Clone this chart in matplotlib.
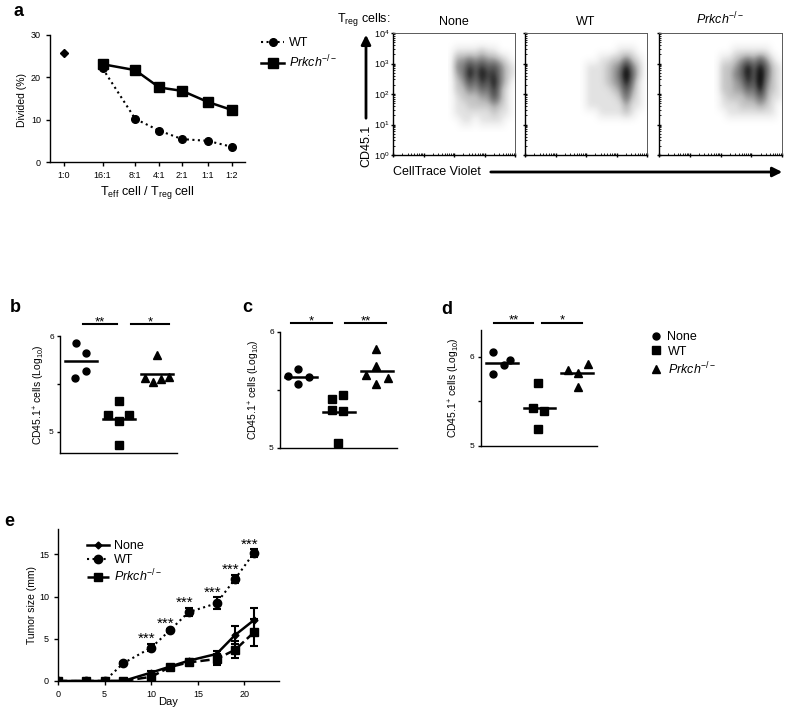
import numpy as np
import matplotlib
matplotlib.use("Agg")
import matplotlib.pyplot as plt
import matplotlib.transforms as mtransforms
from matplotlib.colors import PowerNorm
from matplotlib.lines import Line2D
from matplotlib.patches import FancyArrowPatch

plt.rcParams['font.family'] = ['Liberation Sans', 'DejaVu Sans']
plt.rcParams['mathtext.fontset'] = 'custom'
plt.rcParams['mathtext.rm'] = 'Liberation Sans'
plt.rcParams['mathtext.it'] = 'Liberation Sans:italic'
plt.rcParams['mathtext.bf'] = 'Liberation Sans:bold'
plt.rcParams['axes.linewidth'] = 1.0

KO = r"$\it{Prkch}^{-/-}$"

# --- Data: panel a (suppression assay) ---
ratio_labels = ["1:0", "16:1", "8:1", "4:1", "2:1", "1:1", "1:2"]
ctrl_divided = 25.8
wt_divided = [22.1, 10.2, 7.4, 5.4, 5.0, 3.6]
ko_divided = [23.1, 21.7, 17.6, 16.8, 14.2, 12.3]

# --- Data: panel a flow plots, density read off per bin (0 = empty, 9 = black) ---
# columns: log10 CellTrace Violet 2.0 .. 4.0, rows: log10 CD45.1 3.5 (top) .. 1.0
cv_edges = [2.0, 4.0]
cd45_edges = [1.0, 3.5]
flow_titles = ["None", "WT", KO]
flow_none = [
    [1, 1, 1, 1, 2, 1, 1, 0, 0, 0],
    [3, 3, 4, 3, 4, 3, 3, 2, 1, 0],
    [4, 4, 7, 5, 7, 5, 6, 4, 2, 1],
    [3, 4, 8, 5, 8, 6, 7, 4, 2, 1],
    [2, 3, 6, 4, 7, 5, 8, 4, 2, 0],
    [2, 2, 4, 3, 5, 4, 7, 3, 1, 0],
    [1, 2, 2, 2, 3, 3, 6, 3, 1, 0],
    [1, 1, 2, 2, 2, 2, 3, 2, 1, 0],
    [1, 1, 1, 1, 1, 1, 2, 1, 1, 0],
    [0, 1, 1, 0, 1, 1, 1, 1, 0, 0],
]
flow_wt = [
    [0, 0, 0, 0, 0, 1, 1, 1, 0, 0],
    [0, 0, 1, 1, 2, 2, 4, 2, 1, 0],
    [1, 1, 1, 2, 3, 4, 8, 4, 2, 0],
    [1, 1, 1, 2, 3, 5, 9, 5, 2, 0],
    [1, 1, 1, 2, 3, 4, 8, 4, 1, 0],
    [1, 1, 1, 1, 2, 3, 6, 3, 1, 0],
    [1, 1, 1, 1, 1, 2, 5, 2, 1, 0],
    [1, 1, 1, 1, 1, 1, 3, 1, 1, 0],
    [0, 0, 1, 1, 1, 1, 2, 1, 0, 0],
    [0, 0, 0, 0, 0, 0, 0, 0, 0, 0],
]
flow_ko = [
    [0, 0, 1, 1, 1, 1, 1, 1, 0, 0],
    [1, 1, 2, 3, 4, 3, 5, 3, 1, 0],
    [2, 2, 3, 5, 8, 5, 8, 5, 2, 1],
    [2, 2, 4, 5, 8, 5, 9, 5, 2, 1],
    [2, 2, 3, 4, 7, 5, 9, 4, 2, 1],
    [2, 2, 3, 3, 5, 4, 8, 3, 2, 1],
    [1, 2, 2, 2, 3, 3, 5, 3, 1, 1],
    [1, 1, 1, 2, 2, 2, 3, 2, 1, 0],
    [0, 1, 1, 1, 1, 1, 1, 1, 1, 0],
    [0, 0, 0, 0, 0, 0, 0, 0, 0, 0],
]

# --- Data: panels b-d (log10 CD45.1+ cells) ---
groups = ["None", "WT", KO]
b_vals = [[5.93, 5.82, 5.64, 5.56], [5.32, 5.18, 5.18, 5.11, 4.86], [5.80, 5.56, 5.52, 5.55, 5.57]]
c_vals = [[5.62, 5.68, 5.555, 5.61], [5.42, 5.46, 5.325, 5.32, 5.04], [5.85, 5.71, 5.63, 5.60, 5.55]]
d_vals = [[6.05, 5.81, 5.91, 5.96], [5.71, 5.43, 5.39, 5.19], [5.85, 5.82, 5.92, 5.66]]
b_stars = ["**", "*"]
c_stars = ["*", "**"]
d_stars = ["**", "*"]

# --- Data: panel e (tumour growth) ---
days = [0, 3, 5, 7, 10, 12, 14, 17, 19, 21]
none_size = [0, 0, 0, 0, 1.0, 1.7, 2.4, 3.2, 5.45, 7.2]
none_err = [0, 0, 0, 0, 0.2, 0.2, 0.2, 0.3, 1.1, 1.4]
wt_size = [0, 0, 0, 2.1, 3.95, 6.0, 8.15, 9.2, 12.1, 15.15]
wt_err = [0, 0, 0, 0.1, 0.45, 0.2, 0.5, 0.7, 0.45, 0.45]
ko_size = [0, 0, 0, 0, 0.5, 1.65, 2.2, 2.6, 3.7, 5.75]
ko_err = [0, 0, 0, 0, 0.2, 0.2, 0.2, 0.65, 1.0, 1.55]
e_star_days = [10, 12, 14, 17, 19, 21]

# --- Figure helpers (pixel positions of the 788x714 reference) ---
W, H = 788, 714
fig = plt.figure(figsize=(W / 100, H / 100), dpi=100)


def box(x0, y0, x1, y1):
    return [x0 / W, 1 - y1 / H, (x1 - x0) / W, (y1 - y0) / H]


def ftext(px, py, s, **kw):
    fig.text(px / W, 1 - py / H, s, **kw)


def farrow(p0, p1):
    a = FancyArrowPatch((p0[0] / W, 1 - p0[1] / H), (p1[0] / W, 1 - p1[1] / H),
                        transform=fig.transFigure, arrowstyle='-|>',
                        mutation_scale=14, lw=2, color='k')
    fig.add_artist(a)


# --- Panel a: line chart ---
ax = fig.add_axes(box(50, 35, 245, 162))
xpos = [0, 1.6, 2.95, 3.95, 4.9, 5.95, 6.95]
ax.plot(xpos[1:], wt_divided, ls=':', lw=1.5, color='k', marker='o', ms=5.5, label='WT')
ax.plot(xpos[1:], ko_divided, ls='-', lw=1.8, color='k', marker='s', ms=6.5, label=KO)
ax.plot([xpos[0]], [ctrl_divided], ls='none', color='k', marker='D', ms=4)
ax.set_xlim(-0.58, 7.5)
ax.set_ylim(0, 30)
ax.set_yticks([0, 10, 20, 30])
ax.set_xticks(xpos)
ax.set_xticklabels(ratio_labels)
ax.tick_params(labelsize=6.5, length=3, width=1)
for s in ['top', 'right']:
    ax.spines[s].set_visible(False)
ax.set_ylabel("Divided (%)", fontsize=7.5)
ax.yaxis.set_label_coords(-0.118, 0.49)
ax.set_xlabel(r"T$_{\rm eff}$ cell / T$_{\rm reg}$ cell", fontsize=9)
ax.xaxis.set_label_coords(0.5, -0.17)
fig.legend(handles=ax.get_lines()[:2], loc='upper left', bbox_to_anchor=(250 / W, 1 - 26 / H),
           frameon=False, fontsize=9, handlelength=1.8, handletextpad=0.4, labelspacing=0.35)

# --- Panel a: flow plots ---
flow_grids = [flow_none, flow_wt, flow_ko]
flow_boxes = [(393, 33, 515, 155), (525, 33, 647, 155), (659, 33, 782, 155)]
minor = [k + np.log10(m) for k in range(4) for m in range(2, 10)]
for i, grid in enumerate(flow_grids):
    fa = fig.add_axes(box(*flow_boxes[i]))
    dens = np.pad(np.array(grid, dtype=float), 1)
    dx = (cv_edges[1] - cv_edges[0]) / len(grid[0])
    dy = (cd45_edges[1] - cd45_edges[0]) / len(grid)
    fa.imshow(np.clip(dens, 0, None), cmap='Greys', norm=PowerNorm(0.75, vmin=0, vmax=8.5),
              interpolation='bicubic', aspect='auto',
              extent=[cv_edges[0] - dx, cv_edges[1] + dx, cd45_edges[0] - dy, cd45_edges[1] + dy])
    fa.set_xlim(0, 4)
    fa.set_ylim(0, 4)
    for a in (fa.xaxis, fa.yaxis):
        a.set_ticks(range(5))
        a.set_ticks(minor, minor=True)
    fa.set_xticklabels([])
    if i == 0:
        fa.set_yticklabels([r"$10^{%d}$" % k for k in range(5)])
    else:
        fa.set_yticklabels([])
    fa.tick_params(which='major', labelsize=6.5, length=3, width=1, direction='inout', pad=1)
    fa.tick_params(which='minor', length=1.5, width=0.6, direction='in')
    for s in ['top', 'right']:
        fa.spines[s].set_linewidth(0.7)
        fa.spines[s].set_color('0.35')
    fa.set_title(flow_titles[i], fontsize=9, pad=6)

ftext(391, 20, r"T$_{\rm reg}$ cells:", fontsize=9, ha='right', va='center')
ftext(366, 146, "CD45.1", fontsize=9, rotation=90, ha='center', va='center')
farrow((366, 121), (366, 32))
ftext(393, 172, "CellTrace Violet", fontsize=9, ha='left', va='center')
farrow((488, 172), (785, 172))

# --- Panels b-d: scatter with means ---
panel_specs = [
    (b_vals, b_stars, (60, 336, 177, 453), (4.78, 6.0), -0.111, 1.10,
     [[-0.13, 0.13, 0.13, -0.16], [1.0, 0.72, 1.27, 1.0, 1.0], [2.0, 1.7, 1.9, 2.1, 2.32]],
     [(0.05, 0.96), (1.32, 2.31)]),
    (c_vals, c_stars, (280, 332, 397, 448), (5.0, 6.0), -0.154, 1.075,
     [[-0.35, -0.08, -0.08, 0.21], [0.82, 1.1, 0.82, 1.1, 0.97], [1.99, 1.99, 1.72, 2.28, 1.99]],
     [(-0.27, 0.83), (1.17, 2.24)]),
    (d_vals, d_stars, (481, 330, 597, 446), (5.0, 6.3), -0.164, 1.063,
     [[-0.22, -0.22, 0.07, 0.21], [0.97, 0.82, 1.11, 0.97], [1.75, 2.02, 2.29, 2.02]],
     [(-0.2, 0.84), (1.08, 2.14)]),
]
markers = ['o', 's', '^']
msizes = [5, 5.5, 5.5]
for vals, stars, bx, ylim, lab_x, bar_y, xs, bars in panel_specs:
    ax = fig.add_axes(box(*bx))
    for g, v in enumerate(vals):
        ax.plot(xs[g], v, ls='none', marker=markers[g], ms=msizes[g], color='k')
        m = np.mean(v)
        ax.plot([g - 0.42, g + 0.42], [m, m], color='k', lw=1.8)
    ax.set_xlim(-0.55, 2.53)
    ax.set_ylim(*ylim)
    ax.set_xticks([])
    ax.set_yticks([5, 6])
    ax.set_yticks([5.5], minor=True)
    ax.tick_params(which='both', labelsize=6, length=2.5, width=1, pad=2)
    for s in ['top', 'right']:
        ax.spines[s].set_visible(False)
    ax.set_ylabel(r"CD45.1$^{+}$ cells (Log$_{10}$)", fontsize=7.5)
    ax.yaxis.set_label_coords(lab_x, 0.5)
    tr = mtransforms.blended_transform_factory(ax.transData, ax.transAxes)
    for (x0, x1), st in zip(bars, stars):
        ax.plot([x0, x1], [bar_y, bar_y], color='k', lw=1.5, transform=tr, clip_on=False)
        ax.annotate(st, ((x0 + x1) / 2, bar_y), xycoords=tr, xytext=(0, -0.5),
                    textcoords='offset points', ha='center', va='baseline', fontsize=9.5,
                    annotation_clip=False)

bd_handles = [Line2D([], [], ls='none', marker=markers[g], ms=msizes[g], color='k', label=groups[g])
              for g in range(3)]
fig.legend(handles=bd_handles, loc='upper left', bbox_to_anchor=(640 / W, 1 - 320 / H),
           frameon=False, fontsize=9, handlelength=0.8, handletextpad=0.5, labelspacing=0.2)

ftext(18, 11, "a", fontsize=13, fontweight='bold', ha='center', va='center')
ftext(15, 307, "b", fontsize=13, fontweight='bold', ha='center', va='center')
ftext(247, 307, "c", fontsize=13, fontweight='bold', ha='center', va='center')
ftext(447, 309, "d", fontsize=13, fontweight='bold', ha='center', va='center')
ftext(9, 521, "e", fontsize=13, fontweight='bold', ha='center', va='center')

# --- Panel e: tumour growth ---
ax = fig.add_axes(box(58, 529, 279, 681))
series_e = [
    (none_size, none_err, '-', 1.8, 'D', 3.5, 'None'),
    (wt_size, wt_err, ':', 1.5, 'o', 6, 'WT'),
    (ko_size, ko_err, '--', 1.8, 's', 6, KO),
]
e_handles = []
for yv, ev, ls, lw, mk, ms, lab in series_e:
    ax.errorbar(days, yv, yerr=ev, color='k', ls=ls, lw=lw, marker=mk, ms=ms,
                capsize=3, elinewidth=1.5, capthick=1.5)
    e_handles.append(Line2D([], [], color='k', ls=ls, lw=lw, marker=mk, ms=ms, label=lab))
for d in e_star_days:
    i = days.index(d)
    ax.annotate("***", (d - 0.45, wt_size[i] + wt_err[i] + 1.1), xytext=(0, -6),
                textcoords='offset points', ha='center', va='baseline', fontsize=11)
ax.set_xlim(0, 23.7)
ax.set_ylim(0, 18)
ax.set_xticks([0, 5, 10, 15, 20])
ax.set_yticks([0, 5, 10, 15])
ax.tick_params(labelsize=6.5, length=3, width=1)
for s in ['top', 'right']:
    ax.spines[s].set_visible(False)
ax.set_xlabel("Day", fontsize=8)
ax.xaxis.set_label_coords(0.5, -0.105)
ax.set_ylabel("Tumor size (mm)", fontsize=7.5)
ax.yaxis.set_label_coords(-0.095, 0.5)
ax.legend(handles=e_handles, loc='upper left', bbox_to_anchor=(0.08, 1.0), frameon=False,
          fontsize=9, handlelength=1.8, handletextpad=0.4, labelspacing=0.15)

fig.savefig("out.png", dpi=100)
